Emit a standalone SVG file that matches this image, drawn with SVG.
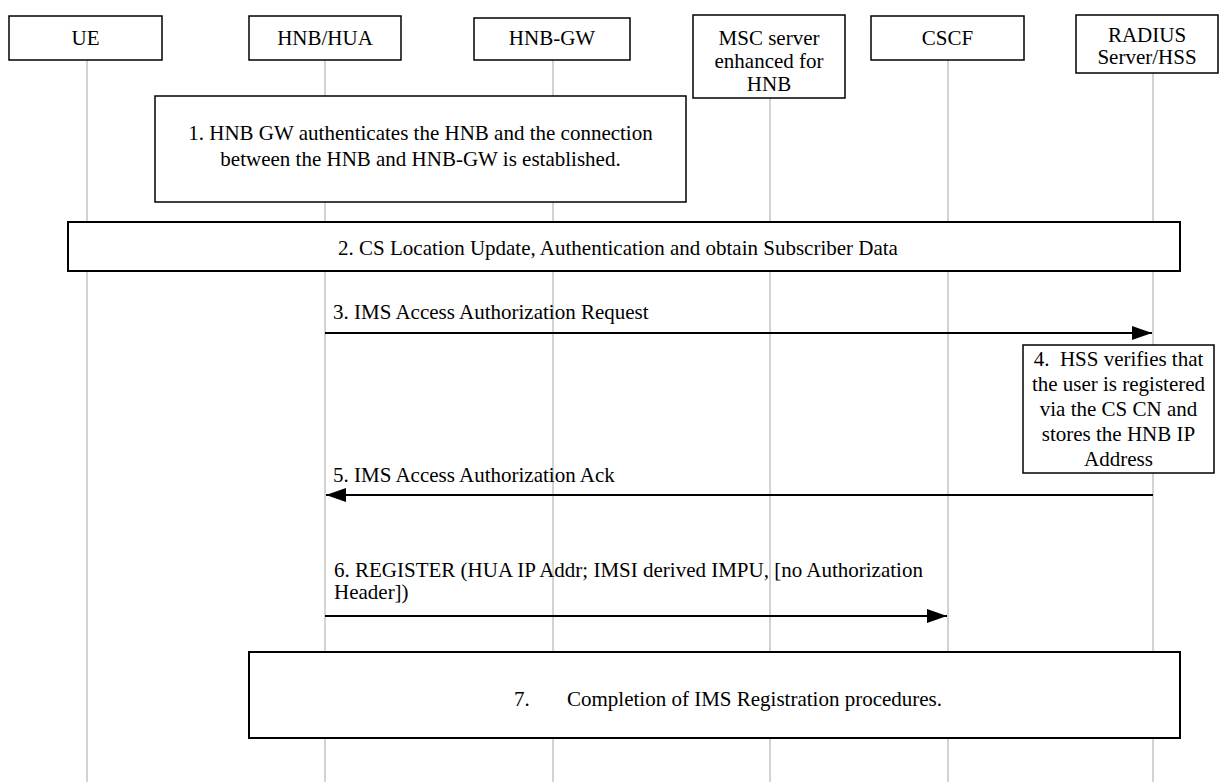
<svg xmlns="http://www.w3.org/2000/svg" width="1219" height="782" viewBox="0 0 1219 782">
<style>
text{font-family:"Liberation Serif","Tinos","Times New Roman","Nimbus Roman","DejaVu Serif",serif;font-size:21px;fill:#000}
.c{text-anchor:middle}
.box{fill:#fff;stroke:#000;stroke-width:1.5}
.bbox{fill:#fff;stroke:#000;stroke-width:2}
.life{stroke:#a6a6a6;stroke-width:1;fill:none}
.msg{stroke:#000;stroke-width:1.8;fill:none}
</style>
<defs>
<marker id="ah" markerUnits="userSpaceOnUse" markerWidth="22" markerHeight="14" refX="20" refY="7" orient="auto">
<path d="M0,0 L20,7 L0,14 Z" fill="#000"/>
</marker>
</defs>
<rect width="1219" height="782" fill="#fff"/>
<g id="lifelines">
<line class="life" x1="87" y1="60" x2="87" y2="782"/>
<line class="life" x1="325" y1="60" x2="325" y2="782"/>
<line class="life" x1="553" y1="60" x2="553" y2="782"/>
<line class="life" x1="770" y1="98" x2="770" y2="782"/>
<line class="life" x1="948" y1="60" x2="948" y2="782"/>
<line class="life" x1="1153" y1="73" x2="1153" y2="782"/>
</g>
<g id="ue"><rect class="box" x="9" y="16" width="153" height="44"/><text class="c" x="85.5" y="45">UE</text></g>
<g id="hnb"><rect class="box" x="249" y="16" width="152" height="44"/><text class="c" x="325" y="45">HNB/HUA</text></g>
<g id="hnbgw"><rect class="box" x="474" y="18" width="156" height="42"/><text class="c" x="552" y="45">HNB-GW</text></g>
<g id="msc"><rect class="box" x="693" y="15" width="152" height="83"/><text class="c" x="769" y="45">MSC server</text><text class="c" x="769" y="68">enhanced for</text><text class="c" x="769" y="91">HNB</text></g>
<g id="cscf"><rect class="box" x="871" y="16" width="153" height="44"/><text class="c" x="947.5" y="45">CSCF</text></g>
<g id="radius"><rect class="box" x="1076" y="15" width="142" height="58"/><text class="c" x="1147" y="42">RADIUS</text><text class="c" x="1147" y="64">Server/HSS</text></g>
<g id="step1"><rect class="box" x="155" y="96" width="531" height="106"/><text class="c" x="420.5" y="140">1. HNB GW authenticates the HNB and the connection</text><text class="c" x="420.5" y="166">between the HNB and HNB-GW is established.</text></g>
<g id="step2"><rect class="bbox" x="68" y="222" width="1112" height="49"/><text class="c" x="618" y="255">2. CS Location Update, Authentication and obtain Subscriber Data</text></g>
<g id="step4"><rect class="box" x="1023" y="345" width="191" height="128"/><text class="c" x="1118.5" y="366" xml:space="preserve">4.  HSS verifies that</text><text class="c" x="1118.5" y="391">the user is registered</text><text class="c" x="1118.5" y="416">via the CS CN and</text><text class="c" x="1118.5" y="441">stores the HNB IP</text><text class="c" x="1118.5" y="466">Address</text></g>
<g id="step7"><rect class="bbox" x="249" y="652" width="931" height="86"/><text x="514" y="706">7.</text><text x="567" y="706">Completion of IMS Registration procedures.</text></g>
<g id="connectors">
<line class="msg" x1="325" y1="333" x2="1152" y2="333" marker-end="url(#ah)"/>
<text x="333" y="319">3. IMS Access Authorization Request</text>
<line class="msg" x1="1153" y1="495" x2="326" y2="495" marker-end="url(#ah)"/>
<text x="333" y="482">5. IMS Access Authorization Ack</text>
<line class="msg" x1="325" y1="616" x2="947" y2="616" marker-end="url(#ah)"/>
<text x="334" y="577">6. REGISTER (HUA IP Addr; IMSI derived IMPU, [no Authorization</text>
<text x="334" y="599">Header])</text>
</g>
</svg>
